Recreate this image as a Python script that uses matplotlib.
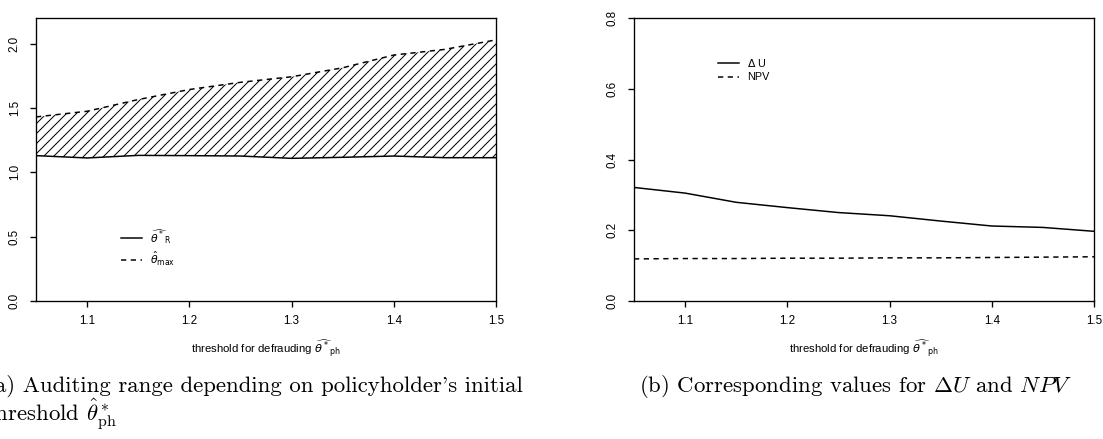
import numpy as np
import matplotlib.pyplot as plt

# threshold for defrauding (policyholder)
theta_ph = [1.05, 1.10, 1.15, 1.20, 1.25, 1.30, 1.35, 1.40, 1.45, 1.50]

# panel (a): auditing range
theta_R = [1.13, 1.112, 1.132, 1.13, 1.127, 1.109, 1.117, 1.127, 1.114, 1.114]
theta_max = [1.431, 1.475, 1.566, 1.644, 1.70, 1.743, 1.813, 1.912, 1.956, 2.03]

# panel (b): Delta U and NPV
delta_U = [0.321, 0.305, 0.279, 0.264, 0.250, 0.241, 0.226, 0.212, 0.208, 0.197]
npv = [0.119, 0.120, 0.120, 0.121, 0.121, 0.122, 0.122, 0.123, 0.124, 0.125]

yticks_a = [0.0, 0.5, 1.0, 1.5, 2.0]
yticks_b = [0.0, 0.2, 0.4, 0.6, 0.8]
xticks = [1.1, 1.2, 1.3, 1.4, 1.5]

DPI = 120
W, H = 1103, 439
plt.rcParams['font.family'] = ['Liberation Sans', 'DejaVu Sans']
plt.rcParams['hatch.linewidth'] = 0.6

fig = plt.figure(figsize=(W / DPI, H / DPI), dpi=DPI)

# axes boxes in pixels: left, right, top, bottom
ax_a = fig.add_axes([36 / W, (H - 301) / H, 460 / W, 283 / H])
ax_b = fig.add_axes([634 / W, (H - 301) / H, 460 / W, 283 / H])

dash = (0, (3.5, 3))
lw = 0.9
tick_fs = 7
xlab = r'threshold for defrauding $\widehat{\theta^*}_{\mathrm{ph}}$'

# (a)
ax_a.fill_between(theta_ph, theta_R, theta_max, facecolor='none',
                  edgecolor='black', hatch='////', linewidth=0)
ax_a.plot(theta_ph, theta_R, color='black', lw=lw, label=r'$\widehat{\theta^*}_{\mathrm{R}}$')
ax_a.plot(theta_ph, theta_max, color='black', lw=lw, linestyle=dash,
          label=r'$\hat{\theta}_{\mathrm{max}}$')
ax_a.set_ylim(0, 2.2)
ax_a.set_yticks(yticks_a)
ax_a.legend(loc='upper left', bbox_to_anchor=(0.185, 0.262), frameon=False,
            fontsize=6.5, handlelength=1.9, handletextpad=0.8, labelspacing=0.35,
            borderpad=0, borderaxespad=0)

# (b)
ax_b.plot(theta_ph, delta_U, color='black', lw=lw, label=r'$\Delta$ U')
ax_b.plot(theta_ph, npv, color='black', lw=lw, linestyle=dash, label='NPV')
ax_b.set_ylim(0, 0.8)
ax_b.set_yticks(yticks_b)
ax_b.legend(loc='upper left', bbox_to_anchor=(0.183, 0.862), frameon=False,
            fontsize=6.5, handlelength=1.9, handletextpad=0.8, labelspacing=0.3,
            borderpad=0, borderaxespad=0)

for ax in (ax_a, ax_b):
    ax.set_xlim(1.05, 1.5)
    ax.set_xticks(xticks)
    ax.set_xticklabels([f'{t:.1f}' for t in xticks])
    ax.set_yticklabels([f'{t:.1f}' for t in ax.get_yticks()])
    for s in ax.spines.values():
        s.set_linewidth(0.8)
    ax.tick_params(direction='out', length=3.6, width=0.8, labelsize=tick_fs)
    ax.tick_params(axis='x', pad=4.5)
    ax.tick_params(axis='y', pad=5.5, labelrotation=90)
    for lab in ax.get_yticklabels():
        lab.set_verticalalignment('center')
    ax.set_xlabel(xlab, fontsize=6.8)
    ax.xaxis.set_label_coords(0.5, -0.166)
    ax.xaxis.label.set_verticalalignment('center')
    for leg_text in ax.get_legend().get_texts():
        leg_text.set_math_fontfamily('dejavusans')

# sub-captions (LaTeX style, Computer Modern)
cap_kw = dict(fontsize=13.7, family='cmr10', math_fontfamily='cm')
fig.text(-14 / W, 1 - 392 / H, "(a) Auditing range depending on policyholder's initial",
         ha='left', va='baseline', **cap_kw)
fig.text(-14 / W, 1 - 421 / H, r"threshold $\hat{\theta}^*_{\mathrm{ph}}$",
         ha='left', va='baseline', **cap_kw)
fig.text(856 / W, 1 - 392 / H, r"(b) Corresponding values for $\Delta U$ and $NPV$",
         ha='center', va='baseline', **cap_kw)

fig.savefig('out.png', dpi=DPI)
